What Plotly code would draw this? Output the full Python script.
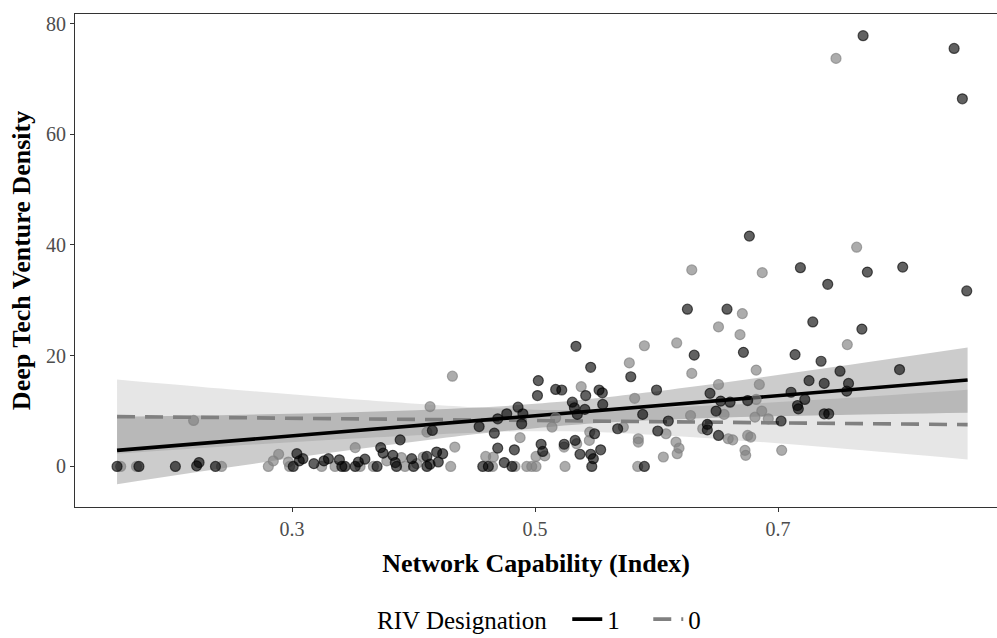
import plotly.graph_objects as go

# ---- scatter data (RIV = 1, dark points) ----
x1 = [0.156, 0.174, 0.204, 0.2215, 0.2235, 0.237,
      0.301, 0.304, 0.306, 0.309, 0.318, 0.3263, 0.330, 0.339, 0.341, 0.3436, 0.352, 0.3546, 0.360, 0.370,
      0.373, 0.375, 0.383, 0.385, 0.386, 0.389, 0.3985, 0.400, 0.411, 0.411, 0.4136, 0.4155, 0.419, 0.4204, 0.424,
      0.454, 0.457, 0.4616, 0.4665, 0.4693, 0.4693, 0.4747, 0.4767, 0.481, 0.483, 0.486, 0.489, 0.490, 0.5027,
      0.502, 0.505, 0.5063, 0.517,
      0.522, 0.524, 0.5307, 0.5324, 0.533, 0.5337, 0.5348, 0.537, 0.541, 0.5417, 0.5458, 0.5458, 0.548, 0.5467,
      0.549, 0.5527, 0.5554, 0.5557, 0.554, 0.568, 0.5788, 0.5886, 0.590, 0.600, 0.601,
      0.6097, 0.6254, 0.631, 0.6418, 0.6418, 0.644, 0.649, 0.651, 0.6528, 0.658, 0.6605, 0.6715, 0.675, 0.6764,
      0.7025, 0.7107, 0.714, 0.716, 0.7167, 0.7184, 0.722, 0.7255, 0.7286, 0.7354, 0.738, 0.738, 0.7417, 0.7409,
      0.751, 0.7565, 0.758, 0.769, 0.770, 0.7735, 0.800, 0.8026, 0.8449, 0.8517, 0.8553]
y1 = [0, 0, 0, 0.1, 0.7, 0,
      0, 2.3, 1.0, 1.4, 0.5, 1.0, 1.4, 1.2, 0, 0, 0, 0.8, 1.3, 0,
      3.4, 2.4, 2.0, 0.7, 0, 4.8, 1.4, 0, 1.8, 0, 0.4, 6.5, 2.6, 0.8, 2.3,
      7.2, 0, 0, 6.0, 3.3, 8.6, 0.7, 9.5, 0, 3.0, 10.7, 7.7, 9.5, 15.5,
      12.8, 4.0, 2.7, 13.9,
      13.8, 4.0, 11.6, 10.6, 4.7, 21.7, 9.4, 2.2, 10.3, 12.8, 17.9, 2.2, 1.4, 0,
      5.9, 13.8, 13.3, 11.2, 3.0, 6.8, 16.2, 9.4, 0, 13.8, 6.4,
      8.2, 28.4, 20.1, 7.6, 6.6, 13.2, 10.0, 5.6, 11.8, 28.4, 11.6, 20.6, 11.9, 41.6,
      8.2, 13.4, 20.2, 11.0, 10.4, 35.9, 12.1, 15.5, 26.1, 19.0, 15.0, 9.5, 9.5, 32.9,
      17.2, 13.6, 15.0, 24.8, 77.8, 35.1, 17.5, 36.0, 75.5, 66.4, 31.7]

# ---- scatter data (RIV = 0, grey points) ----
x0 = [0.159, 0.172, 0.219, 0.242,
      0.2805, 0.2846, 0.289, 0.297, 0.298, 0.3244, 0.3354, 0.352, 0.356, 0.367, 0.378, 0.390, 0.393, 0.4026,
      0.408, 0.411, 0.4136, 0.4306, 0.434, 0.432,
      0.4594, 0.4657, 0.465, 0.4835, 0.4877, 0.4932, 0.4973, 0.5008, 0.5008, 0.508, 0.514, 0.517,
      0.5239, 0.5247, 0.5343, 0.538, 0.545, 0.5447, 0.5727, 0.5776, 0.582, 0.585, 0.585, 0.5845, 0.590, 0.6056,
      0.6078, 0.616, 0.6166, 0.617, 0.6185, 0.628, 0.629, 0.629, 0.638, 0.651, 0.651, 0.6556, 0.659, 0.6627,
      0.6687, 0.6706, 0.6728, 0.6734, 0.675, 0.6775, 0.681, 0.682, 0.682, 0.6846, 0.6866, 0.687, 0.692,
      0.703, 0.7477, 0.757, 0.7647]
y0 = [0, 0, 8.3, 0,
      0, 1.0, 2.2, 0.8, 0, 0, 0, 3.4, 0, 0, 1.0, 1.6, 0, 0.5,
      1.7, 6.2, 10.8, 0, 3.5, 16.3,
      1.8, 1.7, 0, 0, 5.2, 0, 0, 0, 1.8, 1.9, 7.1, 8.8,
      3.5, 0, 4.1, 14.4, 6.2, 4.7, 7.1, 18.7, 12.3, 5.0, 4.4, 0, 21.8, 1.7,
      5.9, 4.4, 22.3, 2.3, 3.3, 9.2, 35.5, 16.8, 6.8, 25.2, 14.8, 9.4, 5.0, 4.8,
      23.8, 27.6, 2.9, 2.0, 5.6, 5.3, 8.9, 17.4, 12.1, 14.8, 10.0, 35.0, 8.6,
      2.9, 73.7, 22.0, 39.6]

# ---- fitted lines and confidence bands ----
fit_x = [0.156, 0.25, 0.35, 0.45, 0.5, 0.55, 0.65, 0.75, 0.856]
fit1 = [2.9, 4.6, 6.4, 8.2, 9.1, 10.05, 11.9, 13.7, 15.6]
lo1 = [-3.2, -0.1, 3.0, 5.8, 6.9, 7.8, 8.8, 9.3, 9.7]
hi1 = [9.0, 9.3, 9.8, 10.6, 11.3, 12.3, 15.0, 18.1, 21.5]
fit0 = [9.0, 8.8, 8.6, 8.4, 8.3, 8.2, 8.0, 7.77, 7.55]
lo0 = [2.3, 3.7, 5.05, 6.1, 6.35, 6.2, 4.97, 3.27, 1.25]
hi0 = [15.7, 13.9, 12.15, 10.7, 10.25, 10.2, 11.03, 12.27, 13.85]

x_ticks = [0.3, 0.5, 0.7]
x_ticklabels = ["0.3", "0.5", "0.7"]
y_ticks = [0, 20, 40, 60, 80]
y_ticklabels = ["0", "20", "40", "60", "80"]

FONT = "Liberation Serif, Times New Roman, serif"

fig = go.Figure()

# confidence bands
for lo, hi, fill in [(lo0, hi0, "rgba(128,128,128,0.2)"), (lo1, hi1, "rgba(0,0,0,0.2)")]:
    fig.add_trace(go.Scatter(x=fit_x, y=hi, mode="lines", line=dict(width=0, shape="spline"),
                             showlegend=False, hoverinfo="skip"))
    fig.add_trace(go.Scatter(x=fit_x, y=lo, mode="lines", line=dict(width=0, shape="spline"),
                             fill="tonexty", fillcolor=fill, showlegend=False, hoverinfo="skip"))

# fitted lines
fig.add_trace(go.Scatter(x=fit_x, y=fit0, mode="lines", name="0", legendrank=2,
                         line=dict(color="#808080", width=3.6, dash="18px,10px")))
fig.add_trace(go.Scatter(x=fit_x, y=fit1, mode="lines", name="1", legendrank=1,
                         line=dict(color="#000000", width=3.6)))

# points
fig.add_trace(go.Scatter(x=x0, y=y0, mode="markers", showlegend=False,
                         marker=dict(size=10, color="rgba(128,128,128,0.65)",
                                     line=dict(color="rgba(128,128,128,0.65)", width=1.2))))
fig.add_trace(go.Scatter(x=x1, y=y1, mode="markers", showlegend=False,
                         marker=dict(size=10, color="rgba(0,0,0,0.62)",
                                     line=dict(color="rgba(0,0,0,0.62)", width=1.2))))

fig.update_layout(
    width=997, height=638,
    margin=dict(l=75, r=0, t=14, b=131, autoexpand=False),
    paper_bgcolor="white", plot_bgcolor="white",
    font=dict(family=FONT, color="black"),
    showlegend=True,
    legend=dict(orientation="h", traceorder="normal",
                x=0.518, xanchor="center",
                y=-0.228, yanchor="middle",
                title=dict(text="RIV Designation  ", font=dict(size=25, family=FONT)),
                font=dict(size=25, family=FONT), itemwidth=30,
                entrywidth=36, entrywidthmode="pixels", bgcolor="rgba(0,0,0,0)"),
    xaxis=dict(range=[0.1214, 0.8802], tickvals=x_ticks, ticktext=x_ticklabels,
               showgrid=False, zeroline=False, showline=True, mirror=True, automargin=False,
               linecolor="#333333", linewidth=1.1, ticks="outside", ticklen=4,
               tickwidth=1.1, tickcolor="#333333",
               tickfont=dict(size=20, color="#4d4d4d", family=FONT),
               title=dict(text="<b>Network Capability (Index)</b>", font=dict(size=26, family=FONT),
                          standoff=14)),
    yaxis=dict(range=[-7.33, 81.72], tickvals=y_ticks, ticktext=y_ticklabels,
               showgrid=False, zeroline=False, showline=True, mirror=False, automargin=False,
               linecolor="#333333", linewidth=1.1, ticks="outside", ticklen=4,
               tickwidth=1.1, tickcolor="#333333",
               tickfont=dict(size=20, color="#4d4d4d", family=FONT),
               title=dict(text="<b>Deep Tech Venture Density</b>", font=dict(size=26, family=FONT),
                          standoff=7)),
)

fig.write_html("out.html")
